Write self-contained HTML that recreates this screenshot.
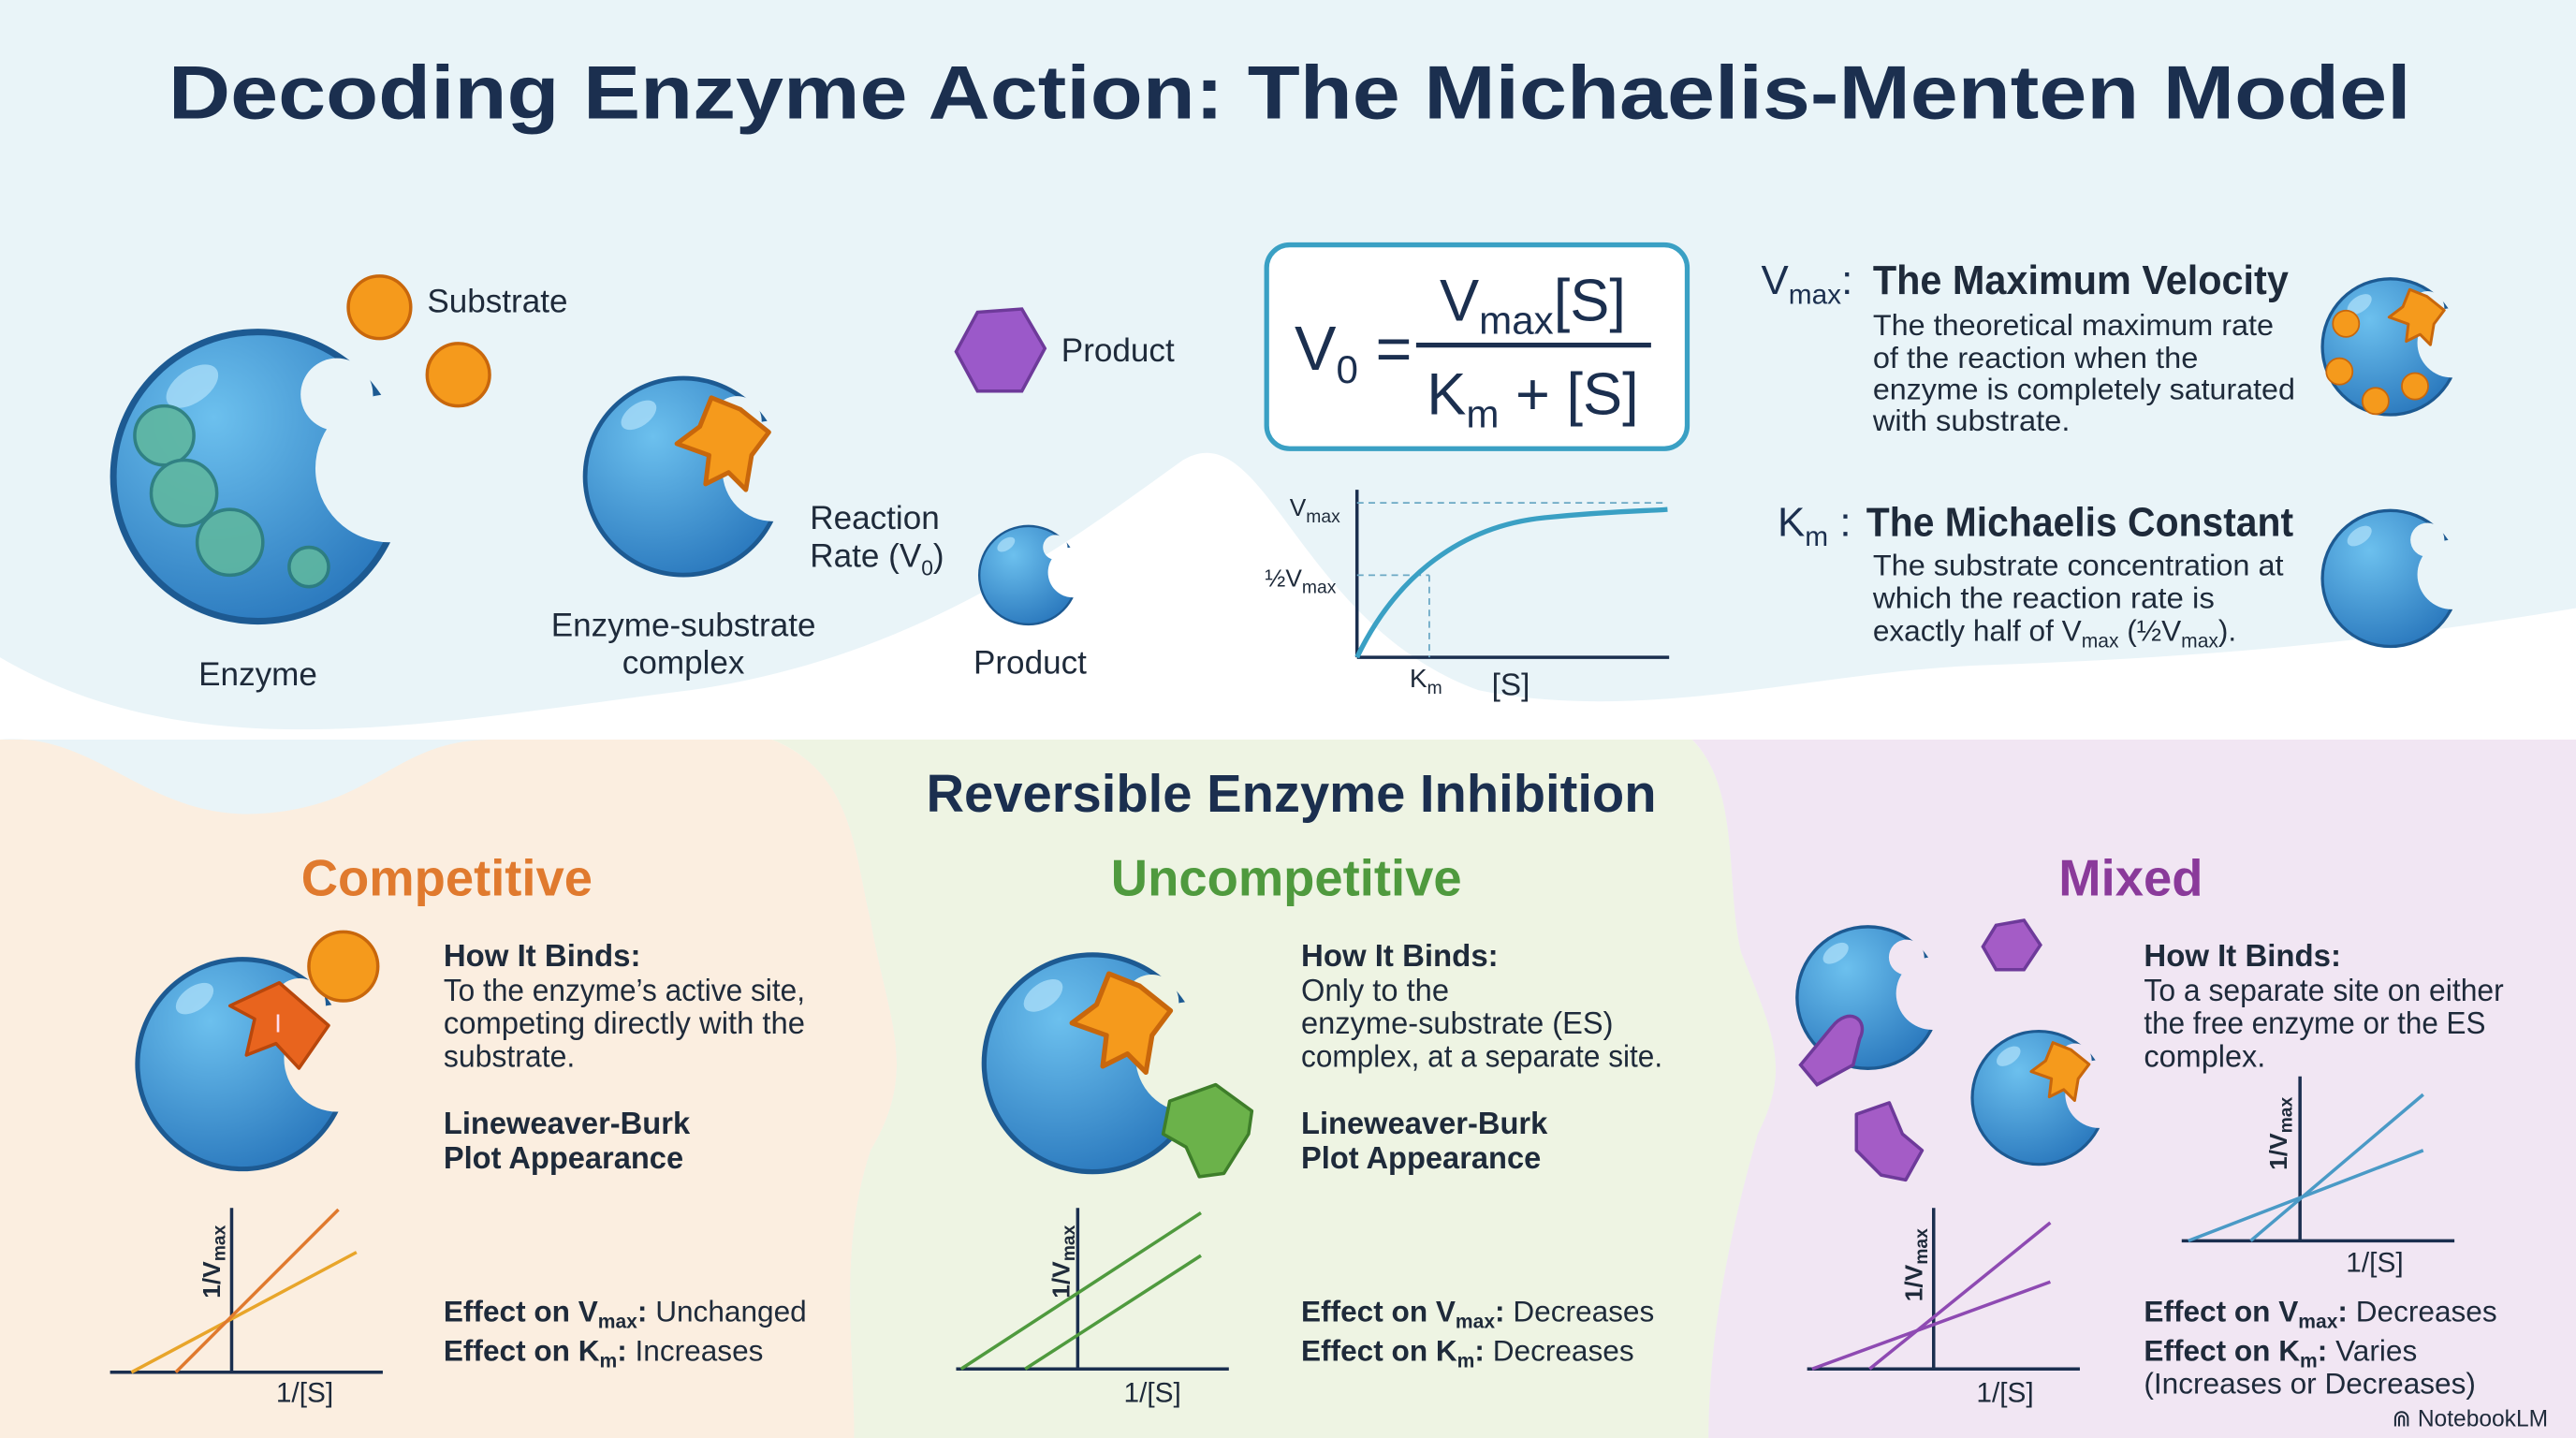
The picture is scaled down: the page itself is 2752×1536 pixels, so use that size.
<!DOCTYPE html>
<html><head><meta charset="utf-8"><style>
html,body{margin:0;padding:0;background:#fff}
svg{display:block}
text{font-family:"Liberation Sans",sans-serif}
</style></head><body>
<svg width="2752" height="1536" viewBox="0 0 1568 875" preserveAspectRatio="none" xmlns="http://www.w3.org/2000/svg">
<defs>
<radialGradient id="bg1" cx="35%" cy="30%" r="75%"><stop offset="0" stop-color="#6cc0ee"/><stop offset="1" stop-color="#2a78bd"/></radialGradient>
<mask id="m1" maskUnits="userSpaceOnUse" x="-110" y="-110" width="220" height="220">
<rect x="-110" y="-110" width="220" height="220" fill="black"/>
<circle cx="0" cy="0" r="90" fill="white"/>
<circle cx="80" cy="-5" r="45" fill="black"/>
<circle cx="48" cy="-50" r="22" fill="black"/>
</mask>
<symbol id="enz" viewBox="-100 -100 200 200">
<g mask="url(#m1)"><circle r="90" fill="url(#bg1)" stroke="#1d5a92" stroke-width="8"/></g>
<ellipse cx="-40" cy="-55" rx="18" ry="10" fill="#a8dcf7" opacity="0.8" transform="rotate(-35 -40 -55)"/>
</symbol>
<symbol id="star" viewBox="-50 -50 100 100">
<path d="M-10,-40 L15,-30 L40,-10 L25,10 L20,40 L5,25 L-15,35 L-12,10 L-40,0 L-20,-15 Z" fill="#f59a1c" stroke="#c8670c" stroke-width="4" stroke-linejoin="round"/>
</symbol>
</defs>
<rect width="1568" height="875" fill="#e9f4f8"/>
<path d="M0,400 C120,470 260,440 420,420 C560,400 650,330 720,280 C770,250 790,380 900,420 C1000,440 1100,410 1200,405 C1350,400 1450,390 1568,370 L1568,460 L0,460 Z" fill="#ffffff"/>
<path d="M0,450 L470,450 C520,470 520,520 530,560 C540,620 560,650 530,700 C510,760 520,820 520,875 L0,875 Z" fill="#fbeee0"/>
<path d="M470,450 L1030,450 C1060,480 1050,540 1060,580 C1080,630 1090,650 1070,690 C1050,760 1040,820 1040,875 L520,875 C520,820 510,760 530,700 C560,650 540,620 530,560 C520,520 520,470 470,450 Z" fill="#eef4e3"/>
<path d="M1030,450 L1568,450 L1568,875 L1040,875 C1040,820 1050,760 1070,690 C1090,650 1080,630 1060,580 C1050,540 1060,480 1030,450 Z" fill="#f1e6f3"/>
<path d="M0,450 C60,445 90,500 160,495 C230,490 240,450 300,450 Z" fill="#e9f4f8"/>

<text x="785" y="72" text-anchor="middle" font-size="46" font-weight="bold" fill="#1b2f4f" textLength="1365" lengthAdjust="spacingAndGlyphs">Decoding Enzyme Action: The Michaelis-Menten Model</text>

<use href="#enz" x="57" y="190" width="200" height="200"/>
<g fill="#5fb7a0" stroke="#2d7d7a" stroke-width="2" opacity="0.9">
<circle cx="100" cy="265" r="18"/><circle cx="112" cy="300" r="20"/><circle cx="140" cy="330" r="20"/><circle cx="188" cy="345" r="12"/>
</g>
<circle cx="231" cy="187" r="19" fill="#f59a1c" stroke="#c8670c" stroke-width="2"/>
<circle cx="279" cy="228" r="19" fill="#f59a1c" stroke="#c8670c" stroke-width="2"/>
<text x="260" y="190" font-size="20" fill="#1e2a3a">Substrate</text>
<text x="157" y="417" font-size="20" fill="#1e2a3a" text-anchor="middle">Enzyme</text>

<use href="#enz" x="348" y="222" width="136" height="136"/>
<use href="#star" x="405" y="235" width="70" height="70"/>
<text x="416" y="387" font-size="20" fill="#1e2a3a" text-anchor="middle">Enzyme-substrate</text>
<text x="416" y="410" font-size="20" fill="#1e2a3a" text-anchor="middle">complex</text>

<polygon points="595,190 622,188 636,212 622,238 595,238 582,214" fill="#9b59c9" stroke="#6e3a9a" stroke-width="2"/>
<text x="646" y="220" font-size="20" fill="#1e2a3a">Product</text>
<text x="493" y="322" font-size="20" fill="#1e2a3a">Reaction</text>
<text x="493" y="345" font-size="20" fill="#1e2a3a">Rate (V<tspan font-size="13" dy="5">0</tspan><tspan dy="-5">)</tspan></text>
<use href="#enz" x="592" y="316" width="68" height="68"/>
<text x="627" y="410" font-size="20" fill="#1e2a3a" text-anchor="middle">Product</text>

<rect x="771" y="149" width="256" height="124" rx="14" fill="#fff" stroke="#3aa0c4" stroke-width="3"/>
<text x="788" y="225" font-size="38" fill="#1b2f4f">V<tspan font-size="24" dy="8">0</tspan><tspan dy="-8"> =</tspan></text>
<line x1="862" y1="210" x2="1005" y2="210" stroke="#1b2f4f" stroke-width="3"/>
<text x="933" y="195" font-size="36" fill="#1b2f4f" text-anchor="middle">V<tspan font-size="24" dy="8">max</tspan><tspan dy="-8">[S]</tspan></text>
<text x="933" y="252" font-size="36" fill="#1b2f4f" text-anchor="middle">K<tspan font-size="24" dy="8">m</tspan><tspan dy="-8"> + [S]</tspan></text>

<line x1="826" y1="298" x2="826" y2="400" stroke="#1b2f4f" stroke-width="2"/>
<line x1="826" y1="400" x2="1016" y2="400" stroke="#1b2f4f" stroke-width="2"/>
<line x1="826" y1="306" x2="1015" y2="306" stroke="#6aa8c4" stroke-dasharray="4,3"/>
<line x1="826" y1="350" x2="870" y2="350" stroke="#6aa8c4" stroke-dasharray="4,3"/>
<line x1="870" y1="350" x2="870" y2="400" stroke="#6aa8c4" stroke-dasharray="4,3"/>
<path d="M826,400 C850,350 890,320 940,315 C980,311 1000,311 1015,310" fill="none" stroke="#3aa0c4" stroke-width="3"/>
<text x="785" y="314" font-size="15" fill="#1e2a3a">V<tspan font-size="11" dy="4">max</tspan></text>
<text x="770" y="357" font-size="15" fill="#1e2a3a">½V<tspan font-size="11" dy="4">max</tspan></text>
<text x="858" y="418" font-size="16" fill="#1e2a3a">K<tspan font-size="11" dy="4">m</tspan></text>
<text x="908" y="423" font-size="19" fill="#1e2a3a">[S]</text>

<text x="1072" y="179" font-size="25" fill="#1b2f4f">V<tspan font-size="17" dy="6">max</tspan><tspan dy="-6">:</tspan></text>
<text x="1140" y="179" font-size="25" font-weight="bold" fill="#1e2a3a" textLength="253" lengthAdjust="spacingAndGlyphs">The Maximum Velocity</text>
<g font-size="18" fill="#1e2a3a">
<text x="1140" y="204" textLength="244" lengthAdjust="spacingAndGlyphs">The theoretical maximum rate</text>
<text x="1140" y="224" textLength="198" lengthAdjust="spacingAndGlyphs">of the reaction when the</text>
<text x="1140" y="243" textLength="257" lengthAdjust="spacingAndGlyphs">enzyme is completely saturated</text>
<text x="1140" y="262" textLength="120" lengthAdjust="spacingAndGlyphs">with substrate.</text>
</g>
<use href="#enz" x="1408" y="164" width="94" height="94"/>
<circle cx="1428" cy="197" r="8" fill="#f59a1c" stroke="#c8670c"/><circle cx="1424" cy="226" r="8" fill="#f59a1c" stroke="#c8670c"/><circle cx="1446" cy="244" r="8" fill="#f59a1c" stroke="#c8670c"/><circle cx="1470" cy="235" r="8" fill="#f59a1c" stroke="#c8670c"/>
<use href="#star" x="1450" y="172" width="42" height="42"/>

<text x="1082" y="326" font-size="25" fill="#1b2f4f">K<tspan font-size="17" dy="6">m</tspan><tspan dy="-6"> :</tspan></text>
<text x="1136" y="326" font-size="25" font-weight="bold" fill="#1e2a3a" textLength="260" lengthAdjust="spacingAndGlyphs">The Michaelis Constant</text>
<g font-size="18" fill="#1e2a3a">
<text x="1140" y="350" textLength="250" lengthAdjust="spacingAndGlyphs">The substrate concentration at</text>
<text x="1140" y="370" textLength="208" lengthAdjust="spacingAndGlyphs">which the reaction rate is</text>
<text x="1140" y="390">exactly half of V<tspan font-size="12" dy="4">max</tspan><tspan dy="-4"> (½V</tspan><tspan font-size="12" dy="4">max</tspan><tspan dy="-4">).</tspan></text>
</g>
<use href="#enz" x="1408" y="305" width="94" height="94"/>

<text x="786" y="494" text-anchor="middle" font-size="32" font-weight="bold" fill="#1b2f4f">Reversible Enzyme Inhibition</text>
<text x="272" y="545" text-anchor="middle" font-size="31" font-weight="bold" fill="#e07a2e">Competitive</text>
<text x="783" y="545" text-anchor="middle" font-size="31" font-weight="bold" fill="#4f9a3e">Uncompetitive</text>
<text x="1297" y="545" text-anchor="middle" font-size="31" font-weight="bold" fill="#8a3a9a">Mixed</text>

<use href="#enz" x="75" y="575" width="145" height="145"/>
<path d="M170,598 L200,624 L182,650 L168,635 L150,642 L155,620 L140,612 Z" fill="#e8641e" stroke="#b8470c" stroke-width="2" stroke-linejoin="round"/>
<text x="167" y="628" font-size="16" fill="#fde" font-family="Liberation Serif">I</text>
<circle cx="209" cy="588" r="21" fill="#f59a1c" stroke="#c8670c" stroke-width="2"/>
<g font-size="19" fill="#1e2a3a">
<text x="270" y="588" font-weight="bold" textLength="120" lengthAdjust="spacingAndGlyphs">How It Binds:</text>
<text x="270" y="609" textLength="220" lengthAdjust="spacingAndGlyphs">To the enzyme’s active site,</text>
<text x="270" y="629" textLength="220" lengthAdjust="spacingAndGlyphs">competing directly with the</text>
<text x="270" y="649" textLength="80" lengthAdjust="spacingAndGlyphs">substrate.</text>
<text x="270" y="690" font-weight="bold" textLength="150" lengthAdjust="spacingAndGlyphs">Lineweaver-Burk</text>
<text x="270" y="711" font-weight="bold" textLength="146" lengthAdjust="spacingAndGlyphs">Plot Appearance</text>
</g>
<g font-size="18" fill="#1e2a3a">
<text x="270" y="804"><tspan font-weight="bold">Effect on V<tspan font-size="12" dy="4">max</tspan><tspan dy="-4">:</tspan></tspan> Unchanged</text>
<text x="270" y="828"><tspan font-weight="bold">Effect on K<tspan font-size="12" dy="4">m</tspan><tspan dy="-4">:</tspan></tspan> Increases</text>
</g>
<line x1="141" y1="735" x2="141" y2="835" stroke="#1b2f4f" stroke-width="2"/>
<line x1="67" y1="835" x2="233" y2="835" stroke="#1b2f4f" stroke-width="2"/>
<line x1="80" y1="835" x2="217" y2="762" stroke="#e8a52a" stroke-width="2"/>
<line x1="107" y1="835" x2="206" y2="736" stroke="#e07a2e" stroke-width="2"/>
<text transform="translate(134,790) rotate(-90)" font-size="15" font-weight="bold" fill="#1e2a3a">1/V<tspan font-size="11" dy="3">max</tspan></text>
<text x="168" y="853" font-size="17" fill="#1e2a3a">1/[S]</text>

<use href="#enz" x="590" y="572" width="150" height="150"/>
<use href="#star" x="645" y="585" width="75" height="75"/>
<path d="M712,670 L740,660 L762,676 L760,690 L745,714 L730,716 L722,698 L708,690 Z" fill="#6bb24a" stroke="#3e7e2a" stroke-width="2" stroke-linejoin="round"/>
<g font-size="19" fill="#1e2a3a">
<text x="792" y="588" font-weight="bold" textLength="120" lengthAdjust="spacingAndGlyphs">How It Binds:</text>
<text x="792" y="609" textLength="90" lengthAdjust="spacingAndGlyphs">Only to the</text>
<text x="792" y="629" textLength="190" lengthAdjust="spacingAndGlyphs">enzyme-substrate (ES)</text>
<text x="792" y="649" textLength="220" lengthAdjust="spacingAndGlyphs">complex, at a separate site.</text>
<text x="792" y="690" font-weight="bold" textLength="150" lengthAdjust="spacingAndGlyphs">Lineweaver-Burk</text>
<text x="792" y="711" font-weight="bold" textLength="146" lengthAdjust="spacingAndGlyphs">Plot Appearance</text>
</g>
<g font-size="18" fill="#1e2a3a">
<text x="792" y="804"><tspan font-weight="bold">Effect on V<tspan font-size="12" dy="4">max</tspan><tspan dy="-4">:</tspan></tspan> Decreases</text>
<text x="792" y="828"><tspan font-weight="bold">Effect on K<tspan font-size="12" dy="4">m</tspan><tspan dy="-4">:</tspan></tspan> Decreases</text>
</g>
<line x1="656" y1="735" x2="656" y2="833" stroke="#1b2f4f" stroke-width="2"/>
<line x1="582" y1="833" x2="748" y2="833" stroke="#1b2f4f" stroke-width="2"/>
<line x1="585" y1="833" x2="731" y2="738" stroke="#4f9a3e" stroke-width="2"/>
<line x1="624" y1="833" x2="731" y2="764" stroke="#4f9a3e" stroke-width="2"/>
<text transform="translate(651,790) rotate(-90)" font-size="15" font-weight="bold" fill="#1e2a3a">1/V<tspan font-size="11" dy="3">max</tspan></text>
<text x="684" y="853" font-size="17" fill="#1e2a3a">1/[S]</text>

<use href="#enz" x="1088" y="558" width="98" height="98"/>
<path d="M1115,625 C1125,612 1138,620 1132,632 L1128,648 L1106,660 L1096,648 Z" fill="#a45cc6" stroke="#6e3a9a" stroke-width="2"/>
<polygon points="1215,563 1232,560 1242,575 1232,590 1215,590 1207,576" fill="#a45cc6" stroke="#6e3a9a" stroke-width="2"/>
<path d="M1130,678 L1150,671 L1158,690 L1170,700 L1160,718 L1145,715 L1130,700 Z" fill="#a45cc6" stroke="#6e3a9a" stroke-width="2" stroke-linejoin="round"/>
<use href="#enz" x="1195" y="622" width="92" height="92"/>
<use href="#star" x="1232" y="630" width="44" height="44"/>
<g font-size="19" fill="#1e2a3a">
<text x="1305" y="588" font-weight="bold" textLength="120" lengthAdjust="spacingAndGlyphs">How It Binds:</text>
<text x="1305" y="609" textLength="219" lengthAdjust="spacingAndGlyphs">To a separate site on either</text>
<text x="1305" y="629" textLength="208" lengthAdjust="spacingAndGlyphs">the free enzyme or the ES</text>
<text x="1305" y="649" textLength="74" lengthAdjust="spacingAndGlyphs">complex.</text>
</g>
<g font-size="18" fill="#1e2a3a">
<text x="1305" y="804"><tspan font-weight="bold">Effect on V<tspan font-size="12" dy="4">max</tspan><tspan dy="-4">:</tspan></tspan> Decreases</text>
<text x="1305" y="828"><tspan font-weight="bold">Effect on K<tspan font-size="12" dy="4">m</tspan><tspan dy="-4">:</tspan></tspan> Varies</text>
<text x="1305" y="848" textLength="202" lengthAdjust="spacingAndGlyphs">(Increases or Decreases)</text>
</g>
<line x1="1400" y1="655" x2="1400" y2="755" stroke="#1b2f4f" stroke-width="2"/>
<line x1="1328" y1="755" x2="1494" y2="755" stroke="#1b2f4f" stroke-width="2"/>
<line x1="1332" y1="755" x2="1475" y2="700" stroke="#4a9ac6" stroke-width="2"/>
<line x1="1370" y1="755" x2="1475" y2="666" stroke="#4a9ac6" stroke-width="2"/>
<text transform="translate(1392,712) rotate(-90)" font-size="15" font-weight="bold" fill="#1e2a3a">1/V<tspan font-size="11" dy="3">max</tspan></text>
<text x="1428" y="774" font-size="17" fill="#1e2a3a">1/[S]</text>
<line x1="1177" y1="735" x2="1177" y2="833" stroke="#1b2f4f" stroke-width="2"/>
<line x1="1100" y1="833" x2="1266" y2="833" stroke="#1b2f4f" stroke-width="2"/>
<line x1="1103" y1="833" x2="1248" y2="780" stroke="#8e4ab2" stroke-width="2"/>
<line x1="1138" y1="833" x2="1248" y2="744" stroke="#8e4ab2" stroke-width="2"/>
<text transform="translate(1170,792) rotate(-90)" font-size="15" font-weight="bold" fill="#1e2a3a">1/V<tspan font-size="11" dy="3">max</tspan></text>
<text x="1203" y="853" font-size="17" fill="#1e2a3a">1/[S]</text>

<text x="1456" y="868" font-size="14" fill="#1e2a3a">⋒ NotebookLM</text>
</svg>
</body></html>
